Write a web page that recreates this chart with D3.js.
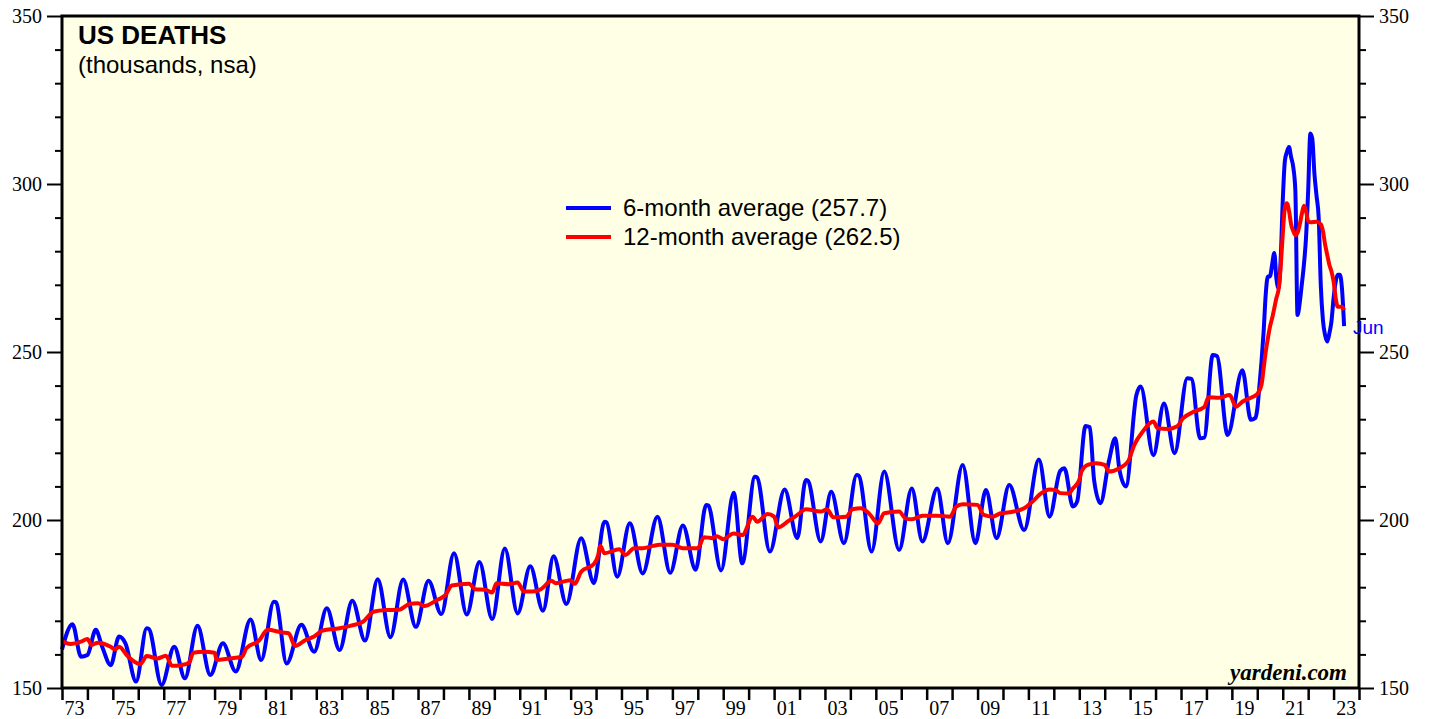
<!DOCTYPE html>
<html>
<head>
<meta charset="utf-8">
<script src="https://cdn.jsdelivr.net/npm/d3@7"></script>
<style>
  body { margin: 0; background: #ffffff; }
  .ylab { font-family: "Liberation Serif", "Times New Roman", serif; font-size: 20px; fill: #000; }
  .xlab { font-family: "Liberation Serif", "Times New Roman", serif; font-size: 20px; fill: #000; }
  .sans { font-family: "Liberation Sans", Arial, sans-serif; fill: #000; }
</style>
</head>
<body>
<div id="chart"></div>
<script>
// monthly readings, thousands
var sixMonthAvg = [
  ["1973-01",161.5],["1973-06",169.0],["1973-10",159.3],["1974-01",159.8],["1974-05",167.3],["1974-08",162.3],
  ["1974-12",156.8],["1975-04",165.3],["1975-07",163.3],["1975-12",151.9],["1976-05",167.8],["1976-06",167.6],
  ["1976-12",150.9],["1977-06",162.3],["1977-11",152.9],["1978-05",168.5],["1978-11",153.9],["1979-05",163.3],
  ["1979-11",154.9],["1980-06",170.4],["1980-11",158.3],["1981-05",175.7],["1981-06",175.5],["1981-11",157.3],
  ["1982-06",168.8],["1982-12",160.8],["1983-06",173.7],["1983-12",161.3],["1984-06",176.0],["1984-12",164.1],
  ["1985-06",182.4],["1985-12",165.1],["1986-06",182.3],["1986-12",168.2],["1987-06",181.9],["1987-12",172.0],
  ["1988-06",190.1],["1988-12",171.9],["1989-06",187.5],["1989-12",170.5],["1990-06",191.5],["1990-12",172.2],
  ["1991-06",186.2],["1991-12",173.0],["1992-05",189.2],["1992-11",175.0],["1993-06",194.6],["1993-12",181.2],
  ["1994-05",199.5],["1994-06",199.3],["1994-11",183.1],["1995-05",199.0],["1995-11",184.1],["1996-06",201.0],
  ["1996-12",184.3],["1997-06",198.4],["1997-12",185.2],["1998-05",204.5],["1998-06",204.3],["1998-12",185.0],
  ["1999-06",208.1],["1999-10",187.1],["2000-04",212.9],["2000-05",212.7],["2000-11",190.6],["2001-06",209.1],
  ["2001-12",194.6],["2002-04",211.9],["2002-05",211.7],["2002-11",193.6],["2003-04",208.4],["2003-10",193.1],
  ["2004-04",213.4],["2004-05",213.2],["2004-11",190.6],["2005-05",214.4],["2005-12",191.1],["2006-06",209.4],
  ["2006-11",193.6],["2007-06",209.4],["2007-11",193.1],["2008-06",216.4],["2008-12",193.1],["2009-05",208.9],
  ["2009-10",194.6],["2010-04",210.4],["2010-11",197.0],["2011-06",218.0],["2011-11",201.0],["2012-04",214.6],
  ["2012-06",215.4],["2012-10",204.0],["2012-12",205.5],["2013-04",228.0],["2013-06",227.6],["2013-08",212.0],
  ["2013-11",205.0],["2014-03",217.4],["2014-06",224.3],["2014-08",214.9],["2014-11",210.0],["2015-04",237.2],
  ["2015-06",239.7],["2015-12",219.3],["2016-05",234.7],["2016-10",219.9],["2017-04",242.2],["2017-06",242.0],
  ["2017-10",224.3],["2017-12",224.5],["2018-04",249.1],["2018-06",248.8],["2018-11",225.3],["2019-06",244.6],
  ["2019-10",229.8],["2019-12",230.3],["2020-01",233.0],["2020-02",240.0],["2020-03",247.0],["2020-04",256.0],
  ["2020-05",267.0],["2020-06",272.5],["2020-07",272.5],["2020-08",276.0],["2020-09",279.5],["2020-10",272.0],
  ["2020-11",269.0],["2020-12",277.0],["2021-01",295.0],["2021-02",307.0],["2021-03",309.5],["2021-04",311.0],
  ["2021-05",308.0],["2021-06",305.0],["2021-07",298.0],["2021-08",261.0],["2021-09",264.5],["2021-10",270.0],
  ["2021-11",276.0],["2021-12",284.0],["2022-01",298.0],["2022-02",315.0],["2022-03",313.5],["2022-04",303.0],
  ["2022-05",296.5],["2022-06",290.0],["2022-07",270.0],["2022-08",259.5],["2022-09",255.0],["2022-10",253.1],
  ["2022-11",255.5],["2022-12",259.0],["2023-01",266.0],["2023-02",271.0],["2023-03",273.0],["2023-04",273.0],
  ["2023-05",269.0],["2023-06",257.7]
];

var twelveMonthAvg = [
  ["1973-01",164.0],["1973-05",163.1],["1973-10",163.8],["1974-01",164.6],["1974-03",162.8],["1974-06",163.5],
  ["1974-12",162.3],["1975-02",161.5],["1975-04",162.3],["1975-08",159.5],["1976-02",157.1],["1976-05",159.5],
  ["1976-10",158.8],["1977-02",159.6],["1977-05",156.6],["1977-09",156.8],["1978-01",157.5],["1978-03",160.5],
  ["1978-08",160.8],["1979-01",160.5],["1979-02",158.3],["1979-07",158.7],["1980-02",159.3],["1980-04",161.8],
  ["1980-10",164.1],["1981-02",167.3],["1981-09",166.5],["1981-12",166.3],["1982-03",162.5],["1982-08",164.3],
  ["1982-12",165.3],["1983-04",167.1],["1983-12",167.8],["1984-05",168.5],["1984-11",169.7],["1985-04",172.7],
  ["1985-10",173.2],["1986-04",173.3],["1986-09",175.0],["1987-01",175.2],["1987-04",174.4],["1987-10",176.2],
  ["1988-02",177.7],["1988-05",180.5],["1989-01",181.0],["1989-04",179.4],["1989-09",179.2],["1989-12",178.4],
  ["1990-02",181.2],["1990-08",180.9],["1990-12",181.4],["1991-03",178.7],["1991-07",178.7],["1991-11",179.4],
  ["1992-04",181.9],["1992-06",181.2],["1993-01",182.1],["1993-03",181.0],["1993-06",184.6],["1993-12",186.9],
  ["1994-02",189.6],["1994-03",192.3],["1994-05",190.1],["1994-12",191.3],["1995-03",189.6],["1995-07",191.6],
  ["1995-11",191.6],["1996-04",192.3],["1996-07",192.6],["1997-01",192.6],["1997-06",191.6],["1998-01",191.6],
  ["1998-04",194.9],["1998-08",194.6],["1998-10",195.2],["1999-01",194.3],["1999-06",196.0],["1999-10",195.5],
  ["2000-03",201.0],["2000-05",199.5],["2000-10",201.8],["2001-01",201.0],["2001-03",197.8],["2001-08",199.8],
  ["2001-12",201.5],["2002-04",203.2],["2002-11",202.5],["2003-02",203.2],["2003-05",200.8],["2003-11",201.0],
  ["2004-02",203.2],["2004-06",203.5],["2004-10",201.8],["2005-02",199.0],["2005-05",202.0],["2005-12",202.5],
  ["2006-03",200.5],["2006-06",200.2],["2006-11",201.3],["2007-06",201.3],["2007-12",201.0],["2008-03",204.0],
  ["2008-06",204.7],["2009-01",204.5],["2009-04",201.5],["2009-08",201.0],["2009-12",202.0],["2010-04",202.3],
  ["2010-11",203.5],["2011-03",205.5],["2011-07",207.9],["2011-11",209.1],["2012-02",208.9],["2012-04",208.0],
  ["2012-08",207.9],["2012-10",209.4],["2013-01",211.9],["2013-02",214.4],["2013-05",216.4],["2013-09",216.9],
  ["2014-01",216.4],["2014-03",214.4],["2014-08",215.4],["2014-12",217.4],["2015-03",222.3],["2015-07",226.3],
  ["2015-12",229.3],["2016-02",227.3],["2016-07",227.1],["2016-11",227.8],["2017-02",230.3],["2017-07",232.2],
  ["2017-12",233.6],["2018-02",236.5],["2018-07",236.4],["2018-12",237.2],["2019-03",233.7],["2019-06",235.2],
  ["2019-11",236.7],["2020-01",237.5],["2020-03",240.2],["2020-04",245.0],["2020-05",250.0],["2020-06",254.0],
  ["2020-07",257.5],["2020-08",260.0],["2020-09",263.0],["2020-10",266.0],["2020-11",268.5],["2020-12",275.0],
  ["2021-01",285.0],["2021-02",293.0],["2021-03",294.3],["2021-04",292.0],["2021-05",288.0],["2021-06",286.0],
  ["2021-07",284.8],["2021-08",285.5],["2021-09",287.8],["2021-10",291.0],["2021-11",293.5],["2021-12",292.0],
  ["2022-01",289.0],["2022-02",288.6],["2022-05",288.8],["2022-07",288.0],["2022-08",286.0],["2022-09",282.0],
  ["2022-10",279.0],["2022-11",276.0],["2022-12",274.0],["2023-01",271.0],["2023-02",266.0],["2023-03",263.5],
  ["2023-05",263.5],["2023-06",262.5]
];

var yTicks = d3.range(150, 351, 10);
var yLabels = [150, 200, 250, 300, 350];
var xLabelYears = d3.range(1973, 2024, 2);
var seriesNames = ["6-month average (257.7)", "12-month average (262.5)"];
var seriesColors = ["#0000ff", "#ff0000"];

var W = 1431, H = 719;
var plotL = 62, plotR = 1359, plotT = 16, plotB = 688;

var parseMonth = d3.timeParse("%Y-%m");

var x = d3.scaleTime()
  .domain([new Date(1973, 0, 1), new Date(2024, 0, 1)])
  .range([plotL, plotR]);

var y = d3.scaleLinear()
  .domain([150, 350])
  .range([plotB, plotT]);

var svg = d3.select("#chart").append("svg")
  .attr("width", W)
  .attr("height", H);

// plot background
svg.append("rect")
  .attr("x", plotL).attr("y", plotT)
  .attr("width", plotR - plotL).attr("height", plotB - plotT)
  .attr("fill", "#ffffe6");

// lines
var line = d3.line()
  .x(function(d) { return x(parseMonth(d[0])); })
  .y(function(d) { return y(d[1]); })
  .curve(d3.curveMonotoneX);

var plot = svg.append("g");

plot.append("path")
  .datum(sixMonthAvg)
  .attr("d", line)
  .attr("fill", "none")
  .attr("stroke", seriesColors[0])
  .attr("stroke-width", 4)
  .attr("stroke-linejoin", "round");

plot.append("path")
  .datum(twelveMonthAvg)
  .attr("d", line)
  .attr("fill", "none")
  .attr("stroke", seriesColors[1])
  .attr("stroke-width", 4)
  .attr("stroke-linejoin", "round");

// frame
svg.append("rect")
  .attr("x", plotL).attr("y", plotT)
  .attr("width", plotR - plotL).attr("height", plotB - plotT)
  .attr("fill", "none")
  .attr("stroke", "#000")
  .attr("stroke-width", 3);

// y axes
function styleY(g, side) {
  g.select(".domain").remove();
  g.selectAll(".tick line")
    .attr("stroke", "#000")
    .attr("stroke-width", 2)
    .attr("x2", function(d) { return (yLabels.indexOf(d) >= 0 ? 15 : 7) * side; });
  g.selectAll(".tick text")
    .attr("class", "ylab")
    .attr("x", 20 * side)
    .attr("dy", "0.34em");
}

svg.append("g")
  .attr("transform", "translate(" + plotL + ",0)")
  .call(d3.axisLeft(y).tickValues(yTicks).tickSize(7)
    .tickFormat(function(d) { return yLabels.indexOf(d) >= 0 ? d : ""; }))
  .call(styleY, -1);

svg.append("g")
  .attr("transform", "translate(" + plotR + ",0)")
  .call(d3.axisRight(y).tickValues(yTicks).tickSize(7)
    .tickFormat(function(d) { return yLabels.indexOf(d) >= 0 ? d : ""; }))
  .call(styleY, 1);

// x axis: year ticks, labels centred mid-year
var xg = svg.append("g")
  .attr("transform", "translate(0," + plotB + ")")
  .call(d3.axisBottom(x).ticks(d3.timeYear.every(1)).tickSize(12).tickFormat(""));
xg.select(".domain").remove();
xg.selectAll(".tick line").attr("stroke", "#000").attr("stroke-width", 2.5);

svg.append("g").selectAll("text")
  .data(xLabelYears)
  .enter().append("text")
  .attr("class", "xlab")
  .attr("x", function(d) { return x(new Date(d, 6, 1)); })
  .attr("y", 715)
  .attr("text-anchor", "middle")
  .text(function(d) { return d3.format("02")(d % 100); });

// titles
svg.append("text")
  .attr("class", "sans")
  .attr("x", 78).attr("y", 44)
  .style("font-size", "26px").style("font-weight", "bold")
  .text("US DEATHS");

svg.append("text")
  .attr("class", "sans")
  .attr("x", 78).attr("y", 73)
  .style("font-size", "24px")
  .text("(thousands, nsa)");

// legend
var legend = svg.append("g").selectAll("g")
  .data(seriesNames)
  .enter().append("g")
  .attr("transform", function(d, i) { return "translate(566," + (208 + i * 29) + ")"; });

legend.append("line")
  .attr("x1", 0).attr("x2", 45)
  .attr("stroke", function(d, i) { return seriesColors[i]; })
  .attr("stroke-width", 4);

legend.append("text")
  .attr("class", "sans")
  .attr("x", 57).attr("y", 8)
  .style("font-size", "24px")
  .text(function(d) { return d; });

// last month tag
svg.append("text")
  .attr("class", "sans")
  .attr("x", 1353).attr("y", 334)
  .style("font-size", "19px")
  .style("fill", seriesColors[0])
  .text("Jun");

svg.append("text")
  .attr("x", 1347).attr("y", 680)
  .attr("text-anchor", "end")
  .style("font-family", "'Liberation Serif', 'Times New Roman', serif")
  .style("font-size", "23px")
  .style("font-weight", "bold")
  .style("font-style", "italic")
  .text("yardeni.com");
</script>
</body>
</html>
